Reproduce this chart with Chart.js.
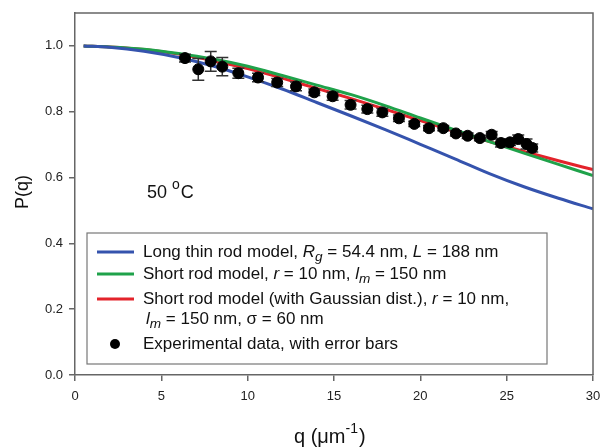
<!DOCTYPE html>
<html>
<head>
<meta charset="utf-8">
<script src="https://cdn.jsdelivr.net/npm/chart.js@4"></script>
<style>
  html, body { margin: 0; padding: 0; background: #fff; }
  #wrap { width: 601px; height: 447px; }
</style>
</head>
<body>
<div id="wrap"><canvas id="chart" width="601" height="447"></canvas></div>
<script>
// model curves, q in um^-1
const qModel = [0.5, 2, 4, 6, 8, 10, 12, 14, 16, 18, 20, 22, 24, 26, 28, 30];
const longRod = [1.000, 0.996, 0.984, 0.965, 0.939, 0.906, 0.869, 0.828, 0.787, 0.745, 0.701, 0.657, 0.612, 0.572, 0.537, 0.505];
const shortRod = [1.000, 0.997, 0.990, 0.977, 0.960, 0.938, 0.910, 0.881, 0.852, 0.818, 0.781, 0.745, 0.709, 0.674, 0.640, 0.606];
const shortRodGauss = [1.000, 0.997, 0.989, 0.975, 0.955, 0.931, 0.902, 0.871, 0.840, 0.807, 0.773, 0.740, 0.709, 0.679, 0.651, 0.624];

// experimental points
const qExp = [6.37, 7.14, 7.86, 8.53, 9.46, 10.6, 11.71, 12.8, 13.86, 14.92, 15.96, 16.93, 17.8, 18.76,
  19.65, 20.5, 21.33, 22.06, 22.74, 23.45, 24.13, 24.67, 25.19, 25.67, 26.15, 26.48];
const pExp = [0.963, 0.929, 0.953, 0.937, 0.917, 0.904, 0.889, 0.877, 0.859, 0.847, 0.821, 0.808, 0.798, 0.780,
  0.763, 0.750, 0.750, 0.734, 0.727, 0.720, 0.730, 0.705, 0.707, 0.717, 0.702, 0.690];
const pErr = [0.012, 0.033, 0.030, 0.028, 0.015, 0.013, 0.012, 0.013, 0.010, 0.012, 0.013, 0.012, 0.012, 0.010,
  0.008, 0.008, 0.008, 0.008, 0.008, 0.008, 0.010, 0.012, 0.010, 0.012, 0.015, 0.012];

const xTicks = [0, 5, 10, 15, 20, 25, 30];
const yTicks = [0.0, 0.2, 0.4, 0.6, 0.8, 1.0];

const BLUE = '#3553ad';
const GREEN = '#1fa24a';
const RED = '#e3232b';
const FONT = '"Liberation Sans", Arial, sans-serif';

const toPts = (xs, ys) => xs.map((x, i) => ({ x: x, y: ys[i] }));

// draw a run of text pieces: [text, italic?, subscript?]
const drawRich = (ctx, x, y, parts, size) => {
  parts.forEach(p => {
    const italic = p[1];
    const sub = p[2];
    const fs = sub ? size * 0.8 : size;
    ctx.font = (italic ? 'italic ' : '') + fs + 'px ' + FONT;
    ctx.fillText(p[0], x, sub ? y + size * 0.3 : y);
    x += ctx.measureText(p[0]).width;
  });
  return x;
};

const decorations = {
  id: 'decorations',
  beforeDatasetDraw(chart, args) {
    if (args.index !== 3) return;
    const ctx = chart.ctx;
    const xs = chart.scales.x, ys = chart.scales.y;
    ctx.save();
    ctx.strokeStyle = '#333';
    ctx.lineWidth = 1.5;
    qExp.forEach((q, i) => {
      const px = xs.getPixelForValue(q);
      const top = ys.getPixelForValue(pExp[i] + pErr[i]);
      const bot = ys.getPixelForValue(pExp[i] - pErr[i]);
      ctx.beginPath();
      ctx.moveTo(px, top); ctx.lineTo(px, bot);
      ctx.moveTo(px - 6, top); ctx.lineTo(px + 6, top);
      ctx.moveTo(px - 6, bot); ctx.lineTo(px + 6, bot);
      ctx.stroke();
    });
    ctx.restore();
  },
  afterDraw(chart) {
    const ctx = chart.ctx;
    const a = chart.chartArea;
    ctx.save();
    // top and right frame lines
    ctx.strokeStyle = '#666';
    ctx.lineWidth = 1.5;
    ctx.beginPath();
    ctx.moveTo(a.left, a.top); ctx.lineTo(a.right, a.top); ctx.lineTo(a.right, a.bottom);
    ctx.stroke();

    ctx.fillStyle = '#111';
    ctx.textBaseline = 'middle';

    // axis titles
    ctx.save();
    ctx.translate(23, 192);
    ctx.rotate(-Math.PI / 2);
    ctx.textAlign = 'center';
    ctx.font = '18px ' + FONT;
    ctx.fillText('P(q)', 0, 0);
    ctx.restore();

    ctx.textAlign = 'left';
    ctx.font = '20px ' + FONT;
    let x = 294;
    ctx.fillText('q (\u03bcm', x, 437);
    x += ctx.measureText('q (\u03bcm').width;
    ctx.font = '14px ' + FONT;
    ctx.fillText('-1', x, 429);
    x += ctx.measureText('-1').width + 1;
    ctx.font = '20px ' + FONT;
    ctx.fillText(')', x, 437);

    // temperature label
    ctx.font = '18px ' + FONT;
    ctx.fillText('50 ', 147, 193);
    x = 147 + ctx.measureText('50 ').width;
    ctx.font = '14px ' + FONT;
    ctx.fillText('o', x, 185);
    x += ctx.measureText('o').width + 1;
    ctx.font = '18px ' + FONT;
    ctx.fillText('C', x, 193);

    // legend box
    ctx.fillStyle = '#fff';
    ctx.fillRect(87, 233, 460, 131);
    ctx.strokeStyle = '#777';
    ctx.lineWidth = 1.2;
    ctx.strokeRect(87, 233, 460, 131);

    const rows = [
      { y: 252, color: BLUE, parts: [['Long thin rod model, '], ['R', true], ['g', true, true], [' = 54.4 nm, '], ['L', true], [' = 188 nm']] },
      { y: 274, color: GREEN, parts: [['Short rod model, '], ['r', true], [' = 10 nm, '], ['l', true], ['m', true, true], [' = 150 nm']] },
      { y: 299, color: RED, parts: [['Short rod model (with Gaussian dist.), '], ['r', true], [' = 10 nm,']] },
      { y: 319, parts: [['l', true], ['m', true, true], [' = 150 nm, \u03c3 = 60 nm']], indent: 3 },
      { y: 344, dot: true, parts: [['Experimental data, with error bars']] }
    ];
    rows.forEach(r => {
      if (r.color) {
        ctx.strokeStyle = r.color;
        ctx.lineWidth = 3;
        ctx.beginPath();
        ctx.moveTo(97, r.y); ctx.lineTo(134, r.y);
        ctx.stroke();
      }
      if (r.dot) {
        ctx.fillStyle = '#000';
        ctx.beginPath();
        ctx.arc(115, r.y, 5, 0, Math.PI * 2);
        ctx.fill();
      }
      ctx.fillStyle = '#111';
      drawRich(ctx, 143 + (r.indent || 0), r.y, r.parts, 17);
    });
    ctx.restore();
  }
};

const lineSet = (label, data, color) => ({
  label: label,
  data: toPts(qModel, data),
  borderColor: color,
  backgroundColor: color,
  borderWidth: 3,
  showLine: true,
  pointRadius: 0,
  cubicInterpolationMode: 'monotone',
  order: 1
});

new Chart(document.getElementById('chart'), {
  type: 'scatter',
  data: {
    datasets: [
      lineSet('Long thin rod model', longRod, BLUE),
      lineSet('Short rod model', shortRod, GREEN),
      lineSet('Short rod model (with Gaussian dist.)', shortRodGauss, RED),
      {
        label: 'Experimental data',
        data: toPts(qExp, pExp),
        backgroundColor: '#000',
        borderColor: '#000',
        pointRadius: 5.5,
        order: 0
      }
    ]
  },
  options: {
    responsive: false,
    animation: false,
    layout: { padding: { top: 13, right: 8, left: 0, bottom: 0 } },
    plugins: { legend: { display: false }, tooltip: { enabled: false } },
    scales: {
      x: {
        type: 'linear',
        min: 0,
        max: 30,
        afterBuildTicks: s => { s.ticks = xTicks.map(v => ({ value: v })); },
        afterFit: s => { s.height = 72; s.paddingLeft = 0; s.paddingRight = 0; },
        ticks: { color: '#222', font: { family: FONT, size: 13 }, padding: 8, maxRotation: 0 },
        grid: { drawOnChartArea: false, tickLength: 6, color: '#666', lineWidth: 1.5 },
        border: { color: '#666', width: 1.5 }
      },
      y: {
        min: 0,
        max: 1.1,
        afterBuildTicks: s => { s.ticks = yTicks.map(v => ({ value: v })); },
        afterFit: s => { s.width = 75; s.paddingTop = 0; s.paddingBottom = 0; },
        ticks: { color: '#222', font: { family: FONT, size: 13 }, padding: 6, callback: v => v.toFixed(1) },
        grid: { drawOnChartArea: false, tickLength: 6, color: '#666', lineWidth: 1.5 },
        border: { color: '#666', width: 1.5 }
      }
    }
  },
  plugins: [decorations]
});
</script>
</body>
</html>
